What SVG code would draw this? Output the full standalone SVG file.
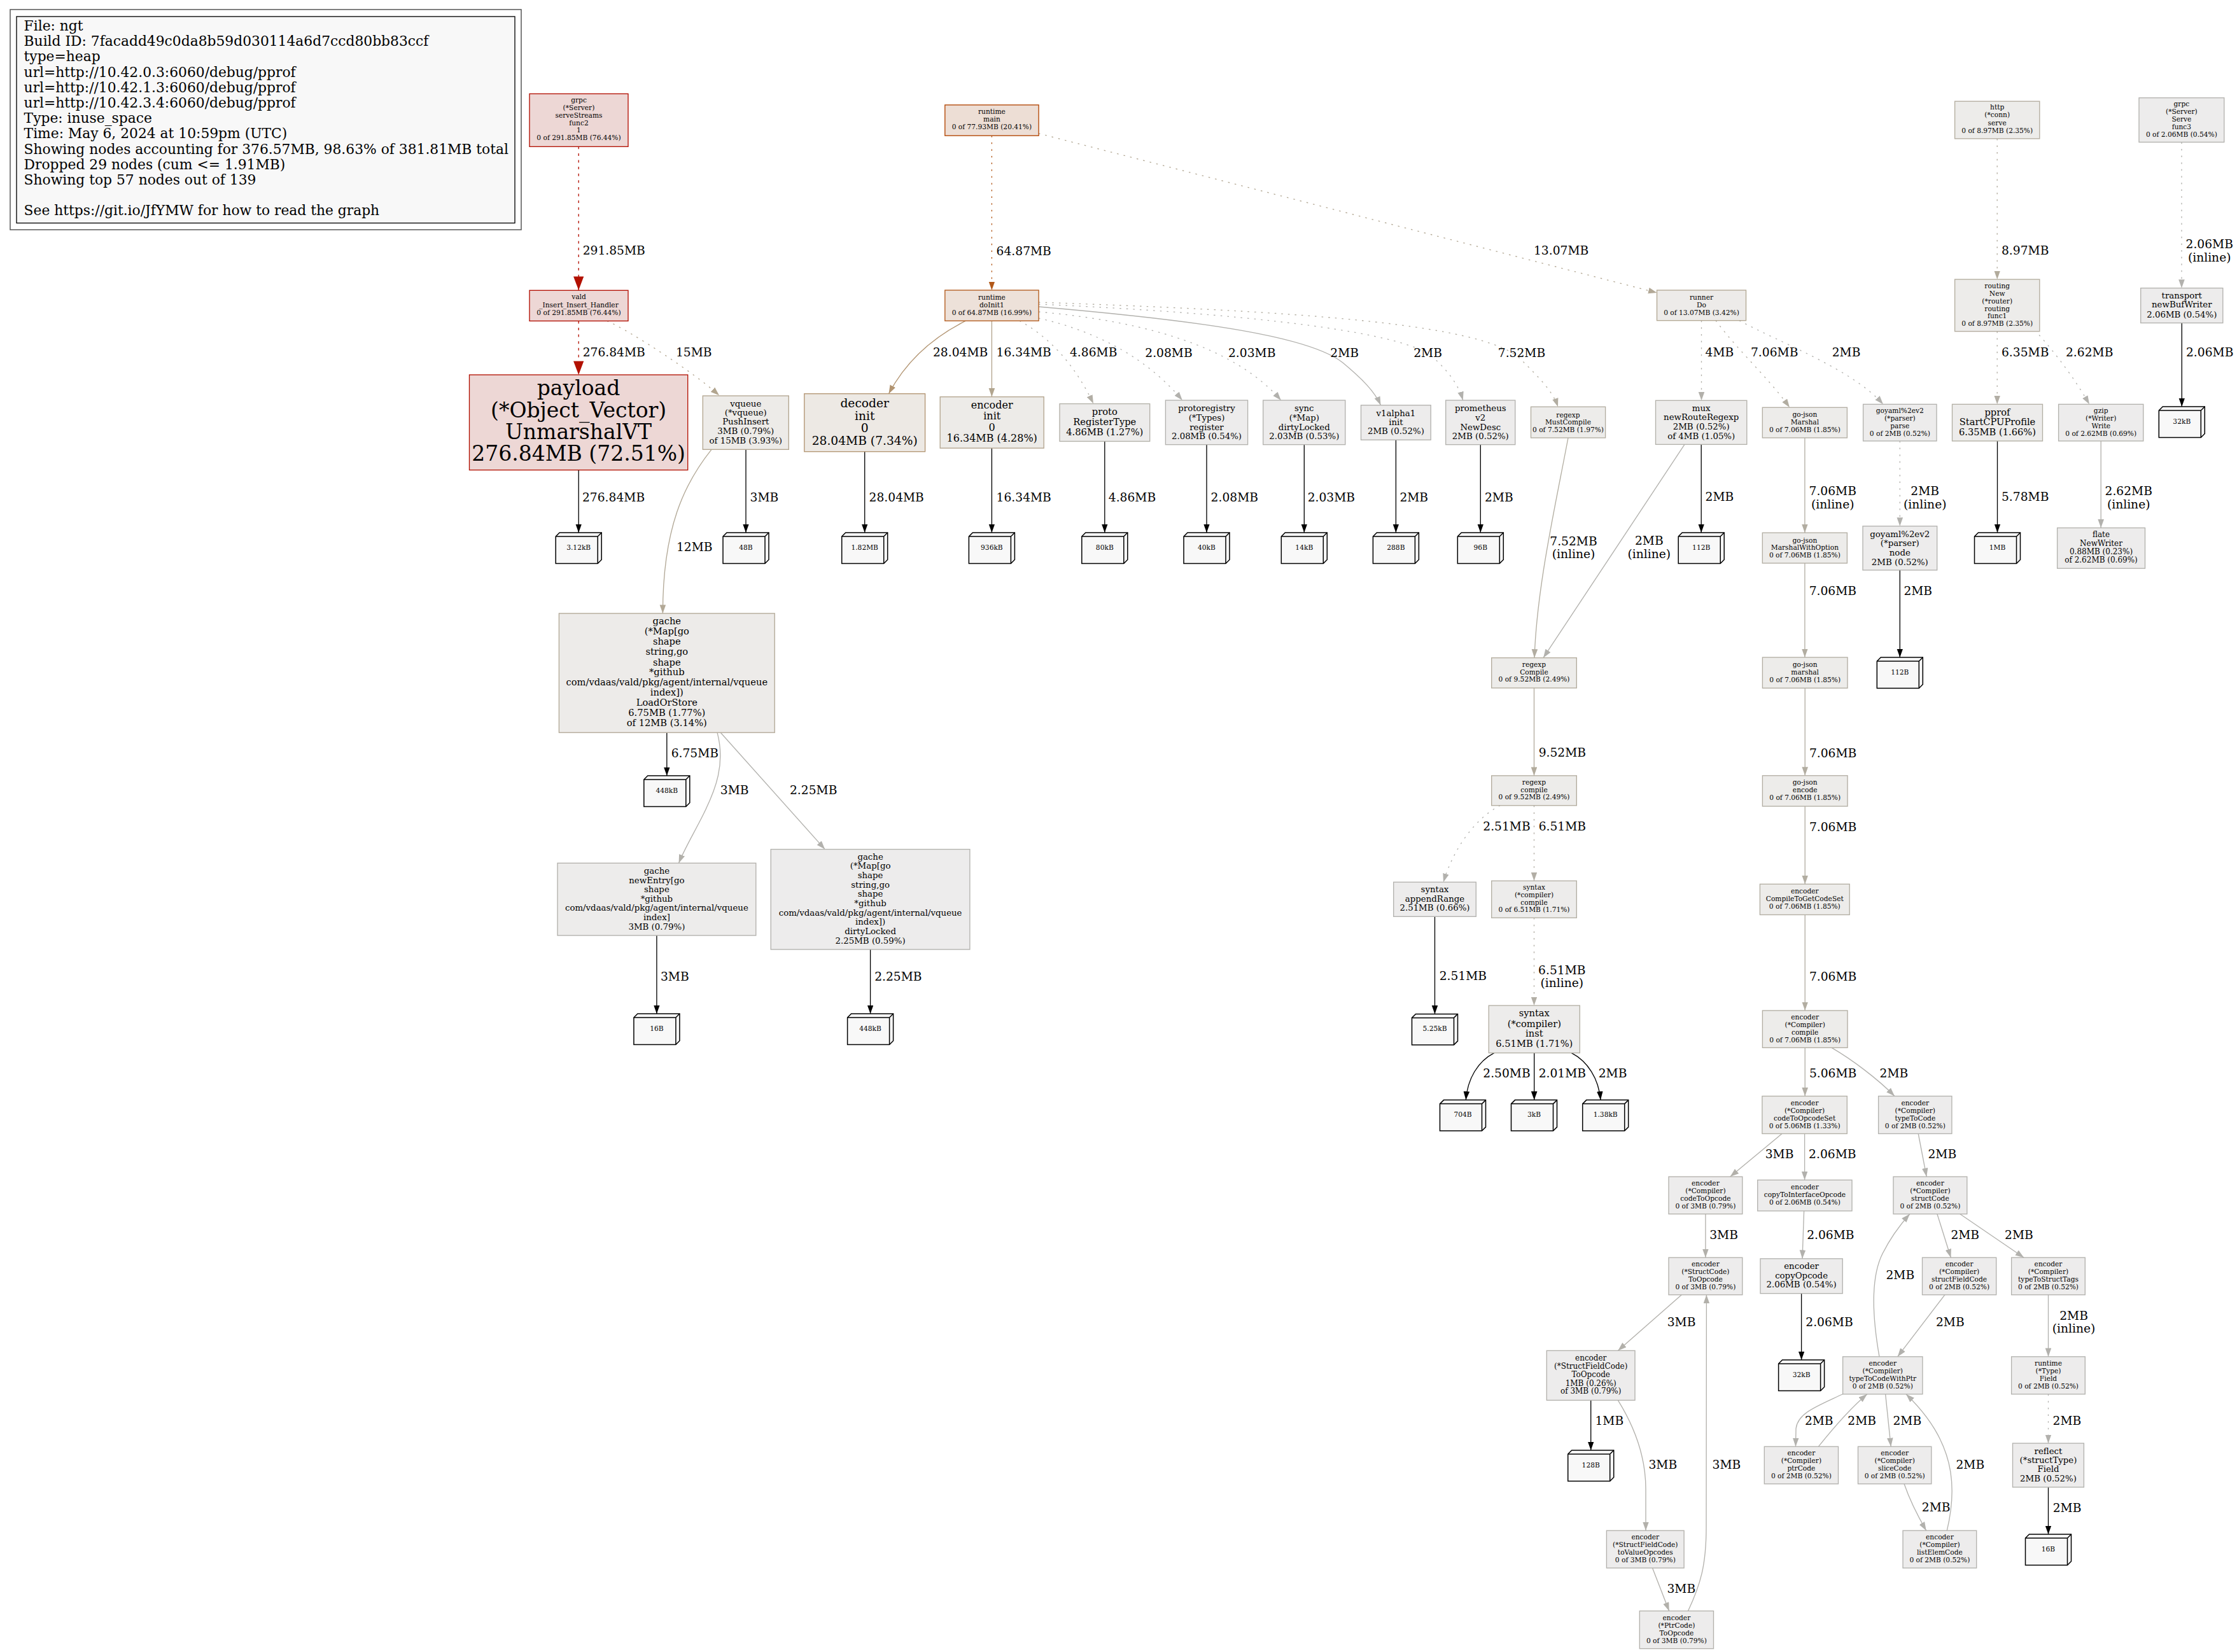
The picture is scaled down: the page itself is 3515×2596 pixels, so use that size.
<svg xmlns="http://www.w3.org/2000/svg" xmlns:xlink="http://www.w3.org/1999/xlink" width="3515" height="2596" viewBox="0 0 3515 2596">
<style>
text{font-family:"DejaVu Serif",serif;fill:#000}
.n text{text-anchor:middle}
.n rect{stroke-width:1.33}
.f8{font-size:10.67px}.f9{font-size:12px}.f10{font-size:13.33px}.f11{font-size:14.67px}.f12{font-size:16px}.f14{font-size:18.67px}.f24{font-size:33px}
.lg{font-size:21.8px}
.el{font-size:18.67px}
.mid{text-anchor:middle}
.e{fill:none;stroke-width:1.33}
.d{stroke-dasharray:2.5 8.1}
.k{stroke:#000}
.g1{stroke:#b2b1ad}
.leaf text{font-size:10.67px;text-anchor:middle}
</style>
<defs>
<marker id="aR" markerUnits="userSpaceOnUse" markerWidth="22" markerHeight="17" refX="21.6" refY="8.15" orient="auto"><path d="M0,0L21.6,8.15L0,16.3Z" fill="#b21000"/></marker>
<marker id="aK" markerUnits="userSpaceOnUse" markerWidth="14" markerHeight="10" refX="13.5" refY="4.8" orient="auto"><path d="M0,0L13.5,4.8L0,9.6Z" fill="#000"/></marker>
<marker id="aO" markerUnits="userSpaceOnUse" markerWidth="14" markerHeight="10" refX="13.5" refY="4.8" orient="auto"><path d="M0,0L13.5,4.8L0,9.6Z" fill="#b2591a"/></marker>
<marker id="a94" markerUnits="userSpaceOnUse" markerWidth="14" markerHeight="10" refX="13.5" refY="4.8" orient="auto"><path d="M0,0L13.5,4.8L0,9.6Z" fill="#b29471"/></marker>
<marker id="aA5" markerUnits="userSpaceOnUse" markerWidth="14" markerHeight="10" refX="13.5" refY="4.8" orient="auto"><path d="M0,0L13.5,4.8L0,9.6Z" fill="#b2a58f"/></marker>
<marker id="aA8" markerUnits="userSpaceOnUse" markerWidth="14" markerHeight="10" refX="13.5" refY="4.8" orient="auto"><path d="M0,0L13.5,4.8L0,9.6Z" fill="#b2a896"/></marker>
<marker id="aAB" markerUnits="userSpaceOnUse" markerWidth="14" markerHeight="10" refX="13.5" refY="4.8" orient="auto"><path d="M0,0L13.5,4.8L0,9.6Z" fill="#b2ab9c"/></marker>
<marker id="aAD" markerUnits="userSpaceOnUse" markerWidth="14" markerHeight="10" refX="13.5" refY="4.8" orient="auto"><path d="M0,0L13.5,4.8L0,9.6Z" fill="#b2ada1"/></marker>
<marker id="aAE" markerUnits="userSpaceOnUse" markerWidth="14" markerHeight="10" refX="13.5" refY="4.8" orient="auto"><path d="M0,0L13.5,4.8L0,9.6Z" fill="#b2aea5"/></marker>
<marker id="aB0" markerUnits="userSpaceOnUse" markerWidth="14" markerHeight="10" refX="13.5" refY="4.8" orient="auto"><path d="M0,0L13.5,4.8L0,9.6Z" fill="#b2b0aa"/></marker>
<marker id="aB1" markerUnits="userSpaceOnUse" markerWidth="14" markerHeight="10" refX="13.5" refY="4.8" orient="auto"><path d="M0,0L13.5,4.8L0,9.6Z" fill="#b2b1ad"/></marker>
<g id="box3d"><path d="M-36,6L-30,0L36,0L36,42.5L30,48.5L-36,48.5Z" fill="#f8f8f8" stroke="#000" stroke-width="1.5"/><path d="M-36,6L30,6L30,48.5M30,6L36,0" fill="none" stroke="#000" stroke-width="1.5"/></g>
</defs>
<rect x="0" y="0" width="3515" height="2596" fill="#fff"/>

<g id="legend">
<rect x="16" y="15" width="803" height="346" fill="none" stroke="#555" stroke-width="1.5"/>
<rect x="26" y="26" width="783" height="324.5" fill="#f8f8f8" stroke="#000" stroke-width="1.33"/>
<text class="lg"><tspan x="37.6" y="48">File: ngt</tspan><tspan x="37.6" y="72.2">Build ID: 7facadd49c0da8b59d030114a6d7ccd80bb83ccf</tspan><tspan x="37.6" y="96.4">type=heap</tspan><tspan x="37.6" y="120.6">url=http://10.42.0.3:6060/debug/pprof</tspan><tspan x="37.6" y="144.8">url=http://10.42.1.3:6060/debug/pprof</tspan><tspan x="37.6" y="169">url=http://10.42.3.4:6060/debug/pprof</tspan><tspan x="37.6" y="193.2">Type: inuse_space</tspan><tspan x="37.6" y="217.4">Time: May 6, 2024 at 10:59pm (UTC)</tspan><tspan x="37.6" y="241.6">Showing nodes accounting for 376.57MB, 98.63% of 381.81MB total</tspan><tspan x="37.6" y="265.8">Dropped 29 nodes (cum &lt;= 1.91MB)</tspan><tspan x="37.6" y="290">Showing top 57 nodes out of 139</tspan><tspan x="37.6" y="338.4">See https://git.io/JfYMW for how to read the graph</tspan></text>
</g>

<g id="edges">
<path class="e" d="M909.2,230.3L909.2,456" stroke="#b20d00" stroke-width="5.3" stroke-dasharray="4 6.6" marker-end="url(#aR)"/>
<text class="el" x="915.7" y="399.7">291.85MB</text>
<path class="e" d="M909.2,504.4L909.2,589" stroke="#b21000" stroke-width="5.3" stroke-dasharray="4 6.6" marker-end="url(#aR)"/>
<text class="el" x="915.7" y="559.6">276.84MB</text>
<path class="e d" d="M954,504.4C990,520 1090,585 1130,621.3" stroke="#b2a58f" marker-end="url(#aA5)"/>
<text class="el" x="1062" y="559.6">15MB</text>
<path class="e k" d="M909.2,738.6L909.2,837" marker-end="url(#aK)"/>
<text class="el" x="915" y="787.5">276.84MB</text>
<path class="e k" d="M1172,706.3L1172,837" marker-end="url(#aK)"/>
<text class="el" x="1178.6" y="787.5">3MB</text>
<path class="e" d="M1118,706.3C1075,760 1041.4,830 1041.4,963.9" stroke="#b2a896" marker-end="url(#aA8)"/>
<text class="el" x="1063" y="865.5">12MB</text>
<path class="e d" d="M1558.4,213.2L1558.4,456" stroke="#b2591a" marker-end="url(#aO)"/>
<text class="el" x="1565.6" y="400.5">64.87MB</text>
<path class="e d" d="M1632,209.7L2603.5,460" stroke="#b2a793" marker-end="url(#aA8)"/>
<text class="el" x="2410" y="400">13.07MB</text>
<path class="e" d="M1517.4,504.2C1470,528 1425,565 1396.5,618.7" stroke="#b29471" marker-end="url(#a94)"/>
<text class="el" x="1466" y="559.6">28.04MB</text>
<path class="e" d="M1558.4,504.2L1558.4,623.6" stroke="#b2a38c" marker-end="url(#aA5)"/>
<text class="el" x="1565.6" y="559.6">16.34MB</text>
<path class="e d" d="M1602,504.2C1650,530 1690,575 1718,634.3" stroke="#b2afa7" marker-end="url(#aAE)"/>
<text class="el" x="1681" y="559.6">4.86MB</text>
<path class="e d g1" d="M1632,500C1720,520 1800,560 1857.8,629" marker-end="url(#aB1)"/>
<text class="el" x="1799.3" y="560.5">2.08MB</text>
<path class="e d g1" d="M1632,490C1800,505 1940,545 2012.8,629" marker-end="url(#aB1)"/>
<text class="el" x="1930" y="560.5">2.03MB</text>
<path class="e g1" d="M1632,482C1900,505 2060,530 2110,570C2140,595 2160,615 2169.5,636.7" marker-end="url(#aB1)"/>
<text class="el" x="2090.3" y="560.5">2MB</text>
<path class="e d g1" d="M1632,478C1950,492 2200,520 2250,560C2275,582 2292,605 2298.7,629" marker-end="url(#aB1)"/>
<text class="el" x="2221.2" y="560.5">2MB</text>
<path class="e d" d="M1632,475C2000,488 2330,505 2390,565C2420,595 2440,615 2448,639.3" stroke="#b2ada0" marker-end="url(#aAD)"/>
<text class="el" x="2353.8" y="560.5">7.52MB</text>
<path class="e k" d="M1358.7,709.7L1358.7,837" marker-end="url(#aK)"/>
<text class="el" x="1365.6" y="787.5">28.04MB</text>
<path class="e k" d="M1558.4,704.2L1558.4,837" marker-end="url(#aK)"/>
<text class="el" x="1565.6" y="787.5">16.34MB</text>
<path class="e k" d="M1735.8,693.5L1735.8,837" marker-end="url(#aK)"/>
<text class="el" x="1741.8" y="788.4">4.86MB</text>
<path class="e k" d="M1896,698.7L1896,837" marker-end="url(#aK)"/>
<text class="el" x="1902.6" y="788.4">2.08MB</text>
<path class="e k" d="M2049.3,698.7L2049.3,837" marker-end="url(#aK)"/>
<text class="el" x="2054.7" y="788.4">2.03MB</text>
<path class="e k" d="M2193.4,691.3L2193.4,837" marker-end="url(#aK)"/>
<text class="el" x="2199.4" y="788.4">2MB</text>
<path class="e k" d="M2326.3,698.7L2326.3,837" marker-end="url(#aK)"/>
<text class="el" x="2333" y="788.4">2MB</text>
<path class="e d" d="M2673.5,503.7L2673.5,629.3" stroke="#b2b0a9" marker-end="url(#aB0)"/>
<text class="el" x="2679.6" y="560">4MB</text>
<path class="e d" d="M2696,503.7C2730,550 2780,595 2812,640.3" stroke="#b2ada2" marker-end="url(#aAD)"/>
<text class="el" x="2751" y="560">7.06MB</text>
<path class="e d g1" d="M2733,503.7C2800,540 2910,580 2959,635.3" marker-end="url(#aB1)"/>
<text class="el" x="2878.7" y="560">2MB</text>
<path class="e k" d="M2673.2,698.4L2673.2,837" marker-end="url(#aK)"/>
<text class="el" x="2679.6" y="787.4">2MB</text>
<path class="e g1" d="M2647,698.4L2425,1033.7" marker-end="url(#aB1)"/>
<text class="el mid" x="2591.3" y="856">2MB</text><text class="el mid" x="2591.3" y="876.8">(inline)</text>
<path class="e" d="M2464,688C2445,790 2415,920 2411,1033.7" stroke="#b2ada0" marker-end="url(#aAD)"/>
<text class="el mid" x="2472.5" y="856.7">7.52MB</text><text class="el mid" x="2472.5" y="876.7">(inline)</text>
<path class="e" d="M2835.9,688L2835.9,837.2" stroke="#b2ada2" marker-end="url(#aAD)"/>
<text class="el mid" x="2879.7" y="778.1">7.06MB</text><text class="el mid" x="2879.7" y="798.9">(inline)</text>
<path class="e d g1" d="M2985.3,693L2985.3,826.8" marker-end="url(#aB1)"/>
<text class="el mid" x="3024.7" y="778.1">2MB</text><text class="el mid" x="3024.7" y="798.9">(inline)</text>
<path class="e d" d="M3138.2,217.9L3138.2,439" stroke="#b2ab9d" marker-end="url(#aAB)"/>
<text class="el" x="3145" y="400">8.97MB</text>
<path class="e d" d="M3138.2,520.7L3138.2,635.3" stroke="#b2aea3" marker-end="url(#aAE)"/>
<text class="el" x="3145" y="560">6.35MB</text>
<path class="e d" d="M3197,518.5C3230,555 3260,595 3283,635.3" stroke="#b2b1ac" marker-end="url(#aB1)"/>
<text class="el" x="3246" y="560">2.62MB</text>
<path class="e d g1" d="M3428,223.4L3428,452.7" marker-end="url(#aB1)"/>
<text class="el mid" x="3471.7" y="389.7">2.06MB</text><text class="el mid" x="3471.7" y="410.6">(inline)</text>
<path class="e k" d="M3428.3,507.5L3428.3,639" marker-end="url(#aK)"/>
<text class="el" x="3435" y="560">2.06MB</text>
<path class="e k" d="M3138.5,693L3138.5,837" marker-end="url(#aK)"/>
<text class="el" x="3145" y="787.4">5.78MB</text>
<path class="e" d="M3301.2,693L3301.2,829.5" stroke="#b2b1ac" marker-end="url(#aB1)"/>
<text class="el mid" x="3344.7" y="778.1">2.62MB</text><text class="el mid" x="3344.7" y="798.9">(inline)</text>
<path class="e" d="M2835.9,885L2835.9,1033" stroke="#b2ada2" marker-end="url(#aAD)"/>
<text class="el" x="2842.7" y="935">7.06MB</text>
<path class="e k" d="M2985.3,895.9L2985.3,1033" marker-end="url(#aK)"/>
<text class="el" x="2991.4" y="935">2MB</text>
<path class="e k" d="M1047.8,1151.2L1047.8,1219" marker-end="url(#aK)"/>
<text class="el" x="1054.7" y="1190.4">6.75MB</text>
<path class="e" d="M1127,1151.2C1140,1200 1125,1240 1105,1280C1090,1310 1075,1335 1066.6,1356.3" stroke="#b2b0ab" marker-end="url(#aB0)"/>
<text class="el" x="1131.8" y="1248.1">3MB</text>
<path class="e g1" d="M1132.3,1151.2L1296.2,1334.6" marker-end="url(#aB1)"/>
<text class="el" x="1241" y="1248.1">2.25MB</text>
<path class="e k" d="M1031.9,1470L1031.9,1593" marker-end="url(#aK)"/>
<text class="el" x="1038" y="1540.8">3MB</text>
<path class="e k" d="M1367.6,1492L1367.6,1593" marker-end="url(#aK)"/>
<text class="el" x="1374.2" y="1540.8">2.25MB</text>
<path class="e" d="M2410.5,1081.1L2410.5,1218.9" stroke="#b2ab9c" marker-end="url(#aAB)"/>
<text class="el" x="2417.7" y="1189.4">9.52MB</text>
<path class="e d g1" d="M2357,1265.8C2320,1285 2285,1330 2268,1386.2" marker-end="url(#aB1)"/>
<text class="el" x="2330.3" y="1305.2">2.51MB</text>
<path class="e d" d="M2410.5,1265.8L2410.5,1384.2" stroke="#b2aea3" marker-end="url(#aAE)"/>
<text class="el" x="2417.7" y="1305.2">6.51MB</text>
<path class="e k" d="M2254.5,1440.3L2254.5,1593.4" marker-end="url(#aK)"/>
<text class="el" x="2261.7" y="1540.4">2.51MB</text>
<path class="e d" d="M2410.5,1442.3L2410.5,1580.1" stroke="#b2aea3" marker-end="url(#aAE)"/>
<text class="el mid" x="2454.3" y="1530.7">6.51MB</text><text class="el mid" x="2454.3" y="1551.1">(inline)</text>
<path class="e k" d="M2347.7,1654.6C2322,1668 2306,1695 2303.3,1728.6" marker-end="url(#aK)"/>
<text class="el" x="2330.3" y="1693.4">2.50MB</text>
<path class="e k" d="M2410.7,1654.6L2410.7,1728.6" marker-end="url(#aK)"/>
<text class="el" x="2417.7" y="1693.4">2.01MB</text>
<path class="e k" d="M2469.3,1654.6C2495,1668 2512,1695 2515,1728.6" marker-end="url(#aK)"/>
<text class="el" x="2511.7" y="1693.4">2MB</text>
<path class="e" d="M2836.2,1081.3L2836.2,1218.8" stroke="#b2ada2" marker-end="url(#aAD)"/>
<text class="el" x="2842.9" y="1189.7">7.06MB</text>
<path class="e" d="M2836.2,1267L2836.2,1389.3" stroke="#b2ada2" marker-end="url(#aAD)"/>
<text class="el" x="2842.9" y="1305.8">7.06MB</text>
<path class="e" d="M2836.2,1437.5L2836.2,1588" stroke="#b2ada2" marker-end="url(#aAD)"/>
<text class="el" x="2842.9" y="1540.6">7.06MB</text>
<path class="e" d="M2836.2,1646.4L2836.2,1722.5" stroke="#b2afa6" marker-end="url(#aAE)"/>
<text class="el" x="2842.9" y="1693.3">5.06MB</text>
<path class="e g1" d="M2878,1646.4C2910,1665 2950,1695 2977,1722.5" marker-end="url(#aB1)"/>
<text class="el" x="2953.6" y="1693.3">2MB</text>
<path class="e" d="M2800,1781.5L2718.7,1849.1" stroke="#b2b0ab" marker-end="url(#aB0)"/>
<text class="el" x="2773.7" y="1820.3">3MB</text>
<path class="e g1" d="M2835.6,1781.5L2835.6,1854.3" marker-end="url(#aB1)"/>
<text class="el" x="2842.1" y="1820.3">2.06MB</text>
<path class="e g1" d="M3014.2,1781.5L3027.2,1849.1" marker-end="url(#aB1)"/>
<text class="el" x="3029.5" y="1820.3">2MB</text>
<path class="e" d="M2679.9,1907.7L2679.9,1976.2" stroke="#b2b0ab" marker-end="url(#aB0)"/>
<text class="el" x="2686.2" y="1946.9">3MB</text>
<path class="e g1" d="M2834.6,1902.9L2832,1977.9" marker-end="url(#aB1)"/>
<text class="el" x="2839.2" y="1946.9">2.06MB</text>
<path class="e g1" d="M3043.9,1907.7L3065.4,1976.2" marker-end="url(#aB1)"/>
<text class="el" x="3065.4" y="1946.9">2MB</text>
<path class="e g1" d="M3079.8,1907.7L3180.2,1976.2" marker-end="url(#aB1)"/>
<text class="el" x="3150.1" y="1946.9">2MB</text>
<path class="e k" d="M2830.6,2032.6L2830.6,2137" marker-end="url(#aK)"/>
<text class="el" x="2837.3" y="2083.9">2.06MB</text>
<path class="e g1" d="M3055.9,2034.7L2981.7,2131.9" marker-end="url(#aB1)"/>
<text class="el" x="3042" y="2083.9">2MB</text>
<path class="e g1" d="M3218.5,2034.7L3218.5,2131.9" marker-end="url(#aB1)"/>
<text class="el mid" x="3258.6" y="2073.9">2MB</text><text class="el mid" x="3258.6" y="2094.3">(inline)</text>
<path class="e g1" d="M2953,2131.9C2943,2075 2938,2010 2958,1970C2972,1942 2988,1922 3000.8,1907.7" marker-end="url(#aB1)"/>
<text class="el" x="2963.5" y="2009.7">2MB</text>
<path class="e" d="M2642.2,2034.7L2542.3,2122.4" stroke="#b2b0ab" marker-end="url(#aB0)"/>
<text class="el" x="2619.7" y="2083.9">3MB</text>
<path class="e" d="M2652.5,2531.5C2672,2490 2681,2460 2681,2400L2681.4,2034.7" stroke="#b2b0ab" marker-end="url(#aB0)"/>
<text class="el" x="2690.6" y="2307.8">3MB</text>
<path class="e k" d="M2499.7,2200.4L2499.7,2279" marker-end="url(#aK)"/>
<text class="el" x="2506.5" y="2238.8">1MB</text>
<path class="e" d="M2542.3,2200.4C2570,2245 2586,2290 2586,2340L2586,2405.2" stroke="#b2b0ab" marker-end="url(#aB0)"/>
<text class="el" x="2590.5" y="2307.8">3MB</text>
<path class="e" d="M2596.5,2464L2622.7,2531.5" stroke="#b2b0ab" marker-end="url(#aB0)"/>
<text class="el" x="2619.5" y="2502.7">3MB</text>
<path class="e g1" d="M2897,2190C2855,2210 2825,2220 2822,2245L2821.5,2273.2" marker-end="url(#aB1)"/>
<text class="el" x="2835.9" y="2238.7">2MB</text>
<path class="e g1" d="M2857.4,2273.2C2880,2245 2905,2215 2933.9,2190.8" marker-end="url(#aB1)"/>
<text class="el" x="2903.3" y="2238.7">2MB</text>
<path class="e g1" d="M2962.6,2190.8L2971.2,2273.2" marker-end="url(#aB1)"/>
<text class="el" x="2974.5" y="2238.7">2MB</text>
<path class="e g1" d="M2992,2331.8C3000,2355 3012,2380 3026.7,2405.2" marker-end="url(#aB1)"/>
<text class="el" x="3019.8" y="2375.3">2MB</text>
<path class="e g1" d="M3059.3,2405.2C3070,2360 3070,2320 3058,2285C3045,2245 3020,2215 2995,2190.8" marker-end="url(#aB1)"/>
<text class="el" x="3073.5" y="2307.5">2MB</text>
<path class="e d g1" d="M3218.5,2190.8L3218.5,2268" marker-end="url(#aB1)"/>
<text class="el" x="3225.6" y="2238.7">2MB</text>
<path class="e k" d="M3218.5,2337L3218.5,2411" marker-end="url(#aK)"/>
<text class="el" x="3225.7" y="2375.7">2MB</text>
</g>

<g id="N_grpc_serveStreams" class="n"><rect x="832" y="147.4" width="155" height="83" fill="#edd7d5" stroke="#b20d00"/><text class="f8"><tspan x="909.5" y="161.2">grpc</tspan><tspan x="909.5" y="172.8">(*Server)</tspan><tspan x="909.5" y="184.8">serveStreams</tspan><tspan x="909.5" y="196.8">func2</tspan><tspan x="909.5" y="208.4">1</tspan><tspan x="909.5" y="220.4">0 of 291.85MB (76.44%)</tspan></text></g>
<g id="N_vald" class="n"><rect x="832" y="456.3" width="155" height="48.1" fill="#edd7d5" stroke="#b20d00"/><text class="f8"><tspan x="909.5" y="470.4">vald</tspan><tspan x="909.5" y="482.5">_Insert_Insert_Handler</tspan><tspan x="909.5" y="494.5">0 of 291.85MB (76.44%)</tspan></text></g>
<g id="N_payload" class="n"><rect x="737.5" y="589" width="343.2" height="149.6" fill="#edd7d5" stroke="#b21000"/><text class="f24"><tspan x="909.1" y="620.8">payload</tspan><tspan x="909.1" y="655.9">(*Object_Vector)</tspan><tspan x="909.1" y="689.9">UnmarshalVT</tspan><tspan x="909.1" y="724.4">276.84MB (72.51%)</tspan></text></g>
<g id="N_vqueue" class="n"><rect x="1104.3" y="622" width="135" height="84.3" fill="#edebe8" stroke="#b2a58f"/><text class="f10"><tspan x="1171.8" y="638.5">vqueue</tspan><tspan x="1171.8" y="653">(*vqueue)</tspan><tspan x="1171.8" y="667.1">PushInsert</tspan><tspan x="1171.8" y="682.1">3MB (0.79%)</tspan><tspan x="1171.8" y="697">of 15MB (3.93%)</tspan></text></g>
<g id="N_runtime_main" class="n"><rect x="1484.8" y="164.9" width="147.3" height="48.3" fill="#edded5" stroke="#b24300"/><text class="f8"><tspan x="1558.4" y="178.7">runtime</tspan><tspan x="1558.4" y="190.6">main</tspan><tspan x="1558.4" y="202.6">0 of 77.93MB (20.41%)</tspan></text></g>
<g id="N_runtime_doInit1" class="n"><rect x="1484.8" y="456" width="147.3" height="48.2" fill="#ede1d9" stroke="#b2591a"/><text class="f8"><tspan x="1558.4" y="470.7">runtime</tspan><tspan x="1558.4" y="482.7">doInit1</tspan><tspan x="1558.4" y="494.6">0 of 64.87MB (16.99%)</tspan></text></g>
<g id="N_decoder_init" class="n"><rect x="1263.8" y="618.7" width="189.8" height="91" fill="#ede9e4" stroke="#b29471"/><text class="f14"><tspan x="1358.7" y="639.7">decoder</tspan><tspan x="1358.7" y="659.7">init</tspan><tspan x="1358.7" y="678.6">0</tspan><tspan x="1358.7" y="699">28.04MB (7.34%)</tspan></text></g>
<g id="N_encoder_init" class="n"><rect x="1477.2" y="623.6" width="163" height="80.6" fill="#edebe8" stroke="#b2a38c"/><text class="f12"><tspan x="1558.7" y="642.4">encoder</tspan><tspan x="1558.7" y="658.8">init</tspan><tspan x="1558.7" y="676.7">0</tspan><tspan x="1558.7" y="694.1">16.34MB (4.28%)</tspan></text></g>
<g id="N_proto_RegisterType" class="n"><rect x="1665" y="634.5" width="141.7" height="59" fill="#edeceb" stroke="#b2afa7"/><text class="f11"><tspan x="1735.8" y="652.3">proto</tspan><tspan x="1735.8" y="667.7">RegisterType</tspan><tspan x="1735.8" y="683.6">4.86MB (1.27%)</tspan></text></g>
<g id="N_protoregistry" class="n"><rect x="1831.4" y="629" width="129.2" height="69.7" fill="#edecec" stroke="#b2b1ad"/><text class="f10"><tspan x="1896" y="645.5">protoregistry</tspan><tspan x="1896" y="660.5">(*Types)</tspan><tspan x="1896" y="675.5">register</tspan><tspan x="1896" y="689.8">2.08MB (0.54%)</tspan></text></g>
<g id="N_sync" class="n"><rect x="1984.7" y="629" width="129.1" height="69.7" fill="#edecec" stroke="#b2b1ad"/><text class="f10"><tspan x="2049.3" y="645.5">sync</tspan><tspan x="2049.3" y="660.5">(*Map)</tspan><tspan x="2049.3" y="675.5">dirtyLocked</tspan><tspan x="2049.3" y="689.8">2.03MB (0.53%)</tspan></text></g>
<g id="N_v1alpha1" class="n"><rect x="2138.5" y="636.7" width="109.7" height="54.6" fill="#edecec" stroke="#b2b1ad"/><text class="f10"><tspan x="2193.4" y="653.8">v1alpha1</tspan><tspan x="2193.4" y="667.8">init</tspan><tspan x="2193.4" y="682.1">2MB (0.52%)</tspan></text></g>
<g id="N_prometheus" class="n"><rect x="2271.7" y="629" width="109.1" height="69.7" fill="#edecec" stroke="#b2b1ad"/><text class="f10"><tspan x="2326.3" y="645.5">prometheus</tspan><tspan x="2326.3" y="660.5">v2</tspan><tspan x="2326.3" y="675.5">NewDesc</tspan><tspan x="2326.3" y="689.8">2MB (0.52%)</tspan></text></g>
<g id="N_regexp_MustCompile" class="n"><rect x="2405.5" y="639.3" width="117.1" height="48.7" fill="#edecea" stroke="#b2ada0"/><text class="f8"><tspan x="2464" y="655.5">regexp</tspan><tspan x="2464" y="667.1">MustCompile</tspan><tspan x="2464" y="678.8">0 of 7.52MB (1.97%)</tspan></text></g>
<g id="N_runner_Do" class="n"><rect x="2603.5" y="456" width="140" height="47.7" fill="#edebe9" stroke="#b2a793"/><text class="f8"><tspan x="2673.5" y="471.3">runner</tspan><tspan x="2673.5" y="483.3">Do</tspan><tspan x="2673.5" y="494.8">0 of 13.07MB (3.42%)</tspan></text></g>
<g id="N_mux" class="n"><rect x="2601.5" y="629.3" width="143.3" height="69.1" fill="#edeceb" stroke="#b2b0a9"/><text class="f10"><tspan x="2673.2" y="645.6">mux</tspan><tspan x="2673.2" y="660.4">newRouteRegexp</tspan><tspan x="2673.2" y="675.2">2MB (0.52%)</tspan><tspan x="2673.2" y="689.5">of 4MB (1.05%)</tspan></text></g>
<g id="N_gojson_Marshal" class="n"><rect x="2769.3" y="640.3" width="133.1" height="47.7" fill="#edecea" stroke="#b2ada2"/><text class="f8"><tspan x="2835.9" y="655">go-json</tspan><tspan x="2835.9" y="666.6">Marshal</tspan><tspan x="2835.9" y="678.6">0 of 7.06MB (1.85%)</tspan></text></g>
<g id="N_goyaml_parse" class="n"><rect x="2927.6" y="635.3" width="115.4" height="57.7" fill="#edecec" stroke="#b2b1ad"/><text class="f8"><tspan x="2985.3" y="648.5">goyaml%2ev2</tspan><tspan x="2985.3" y="660.5">(*parser)</tspan><tspan x="2985.3" y="672.6">parse</tspan><tspan x="2985.3" y="684.7">0 of 2MB (0.52%)</tspan></text></g>
<g id="N_pprof" class="n"><rect x="3067.5" y="635.3" width="142" height="57.7" fill="#edeceb" stroke="#b2aea3"/><text class="f11"><tspan x="3138.5" y="652.7">pprof</tspan><tspan x="3138.5" y="668.1">StartCPUProfile</tspan><tspan x="3138.5" y="684">6.35MB (1.66%)</tspan></text></g>
<g id="N_gzip" class="n"><rect x="3234.6" y="635.3" width="133.2" height="57.7" fill="#edecec" stroke="#b2b1ac"/><text class="f8"><tspan x="3301.2" y="648.5">gzip</tspan><tspan x="3301.2" y="660.5">(*Writer)</tspan><tspan x="3301.2" y="672.6">Write</tspan><tspan x="3301.2" y="684.7">0 of 2.62MB (0.69%)</tspan></text></g>
<g id="N_http" class="n"><rect x="3071.6" y="159.2" width="133.2" height="58.7" fill="#edecea" stroke="#b2ab9d"/><text class="f8"><tspan x="3138.2" y="172.3">http</tspan><tspan x="3138.2" y="184.4">(*conn)</tspan><tspan x="3138.2" y="196.5">serve</tspan><tspan x="3138.2" y="208.5">0 of 8.97MB (2.35%)</tspan></text></g>
<g id="N_grpc_Serve" class="n"><rect x="3361" y="153.7" width="133.8" height="69.7" fill="#edecec" stroke="#b2b1ad"/><text class="f8"><tspan x="3427.9" y="166.8">grpc</tspan><tspan x="3427.9" y="178.9">(*Server)</tspan><tspan x="3427.9" y="191">Serve</tspan><tspan x="3427.9" y="202.5">func3</tspan><tspan x="3427.9" y="214.6">0 of 2.06MB (0.54%)</tspan></text></g>
<g id="N_routing" class="n"><rect x="3071.6" y="439" width="133.2" height="81.7" fill="#edecea" stroke="#b2ab9d"/><text class="f8"><tspan x="3138.2" y="453.2">routing</tspan><tspan x="3138.2" y="465.3">New</tspan><tspan x="3138.2" y="476.8">(*router)</tspan><tspan x="3138.2" y="488.8">routing</tspan><tspan x="3138.2" y="500.4">func1</tspan><tspan x="3138.2" y="512.4">0 of 8.97MB (2.35%)</tspan></text></g>
<g id="N_transport" class="n"><rect x="3363.7" y="452.7" width="129.1" height="54.8" fill="#edecec" stroke="#b2b1ad"/><text class="f10"><tspan x="3428.3" y="469">transport</tspan><tspan x="3428.3" y="483.3">newBufWriter</tspan><tspan x="3428.3" y="498.6">2.06MB (0.54%)</tspan></text></g>
<g id="N_gojson_MarshalWithOption" class="n"><rect x="2769.3" y="837.2" width="133.1" height="47.8" fill="#edecea" stroke="#b2ada2"/><text class="f8"><tspan x="2835.9" y="852.5">go-json</tspan><tspan x="2835.9" y="864">MarshalWithOption</tspan><tspan x="2835.9" y="876.1">0 of 7.06MB (1.85%)</tspan></text></g>
<g id="N_goyaml_node" class="n"><rect x="2927" y="826.8" width="116.7" height="69.1" fill="#edecec" stroke="#b2b1ad"/><text class="f10"><tspan x="2985.3" y="843.7">goyaml%2ev2</tspan><tspan x="2985.3" y="857.8">(*parser)</tspan><tspan x="2985.3" y="872.8">node</tspan><tspan x="2985.3" y="887.5">2MB (0.52%)</tspan></text></g>
<g id="N_flate" class="n"><rect x="3232.6" y="829.5" width="137.9" height="63.7" fill="#edecec" stroke="#b2b1ac"/><text class="f9"><tspan x="3301.5" y="844.3">flate</tspan><tspan x="3301.5" y="858">NewWriter</tspan><tspan x="3301.5" y="871.1">0.88MB (0.23%)</tspan><tspan x="3301.5" y="884.3">of 2.62MB (0.69%)</tspan></text></g>
<g id="N_gache_LoadOrStore" class="n"><rect x="878.4" y="963.9" width="338.8" height="187.3" fill="#edebe9" stroke="#b2a896"/><text class="f11"><tspan x="1047.8" y="980.9">gache</tspan><tspan x="1047.8" y="997.3">(*Map[go</tspan><tspan x="1047.8" y="1013.3">shape</tspan><tspan x="1047.8" y="1029.4">string,go</tspan><tspan x="1047.8" y="1045.5">shape</tspan><tspan x="1047.8" y="1061.1">*github</tspan><tspan x="1047.8" y="1077.1">com/vdaas/vald/pkg/agent/internal/vqueue</tspan><tspan x="1047.8" y="1093.2">index])</tspan><tspan x="1047.8" y="1109.2">LoadOrStore</tspan><tspan x="1047.8" y="1125.3">6.75MB (1.77%)</tspan><tspan x="1047.8" y="1141.3">of 12MB (3.14%)</tspan></text></g>
<g id="N_gache_newEntry" class="n"><rect x="876" y="1356.3" width="311.8" height="113.7" fill="#edeceb" stroke="#b2b0ab"/><text class="f10"><tspan x="1031.9" y="1373.2">gache</tspan><tspan x="1031.9" y="1387.6">newEntry[go</tspan><tspan x="1031.9" y="1402.3">shape</tspan><tspan x="1031.9" y="1417.1">*github</tspan><tspan x="1031.9" y="1431.4">com/vdaas/vald/pkg/agent/internal/vqueue</tspan><tspan x="1031.9" y="1446.1">index]</tspan><tspan x="1031.9" y="1460.8">3MB (0.79%)</tspan></text></g>
<g id="N_gache_dirtyLocked" class="n"><rect x="1211.2" y="1334.6" width="312.7" height="157.4" fill="#edecec" stroke="#b2b1ad"/><text class="f10"><tspan x="1367.6" y="1351.1">gache</tspan><tspan x="1367.6" y="1365.4">(*Map[go</tspan><tspan x="1367.6" y="1380.2">shape</tspan><tspan x="1367.6" y="1395.4">string,go</tspan><tspan x="1367.6" y="1409.2">shape</tspan><tspan x="1367.6" y="1424">*github</tspan><tspan x="1367.6" y="1439.2">com/vdaas/vald/pkg/agent/internal/vqueue</tspan><tspan x="1367.6" y="1453">index])</tspan><tspan x="1367.6" y="1468.2">dirtyLocked</tspan><tspan x="1367.6" y="1483">2.25MB (0.59%)</tspan></text></g>
<g id="N_regexp_Compile" class="n"><rect x="2343.7" y="1033.7" width="133.6" height="47.4" fill="#edecea" stroke="#b2ab9c"/><text class="f8"><tspan x="2410.5" y="1048.2">regexp</tspan><tspan x="2410.5" y="1059.9">Compile</tspan><tspan x="2410.5" y="1071.1">0 of 9.52MB (2.49%)</tspan></text></g>
<g id="N_regexp_compile" class="n"><rect x="2343.7" y="1218.9" width="133.6" height="46.9" fill="#edecea" stroke="#b2ab9c"/><text class="f8"><tspan x="2410.5" y="1233.4">regexp</tspan><tspan x="2410.5" y="1244.6">compile</tspan><tspan x="2410.5" y="1256.4">0 of 9.52MB (2.49%)</tspan></text></g>
<g id="N_syntax_appendRange" class="n"><rect x="2189.7" y="1386.2" width="129.6" height="54.1" fill="#edecec" stroke="#b2b1ad"/><text class="f10"><tspan x="2254.5" y="1402.2">syntax</tspan><tspan x="2254.5" y="1417">appendRange</tspan><tspan x="2254.5" y="1431.3">2.51MB (0.66%)</tspan></text></g>
<g id="N_syntax_compile" class="n"><rect x="2343.7" y="1384.2" width="133.6" height="58.1" fill="#edeceb" stroke="#b2aea3"/><text class="f8"><tspan x="2410.5" y="1397.7">syntax</tspan><tspan x="2410.5" y="1409.9">(*compiler)</tspan><tspan x="2410.5" y="1421.7">compile</tspan><tspan x="2410.5" y="1433.4">0 of 6.51MB (1.71%)</tspan></text></g>
<g id="N_syntax_inst" class="n"><rect x="2339.3" y="1580.1" width="143" height="74.5" fill="#edeceb" stroke="#b2aea3"/><text class="f11"><tspan x="2410.8" y="1597.1">syntax</tspan><tspan x="2410.8" y="1613.5">(*compiler)</tspan><tspan x="2410.8" y="1628.8">inst</tspan><tspan x="2410.8" y="1644.6">6.51MB (1.71%)</tspan></text></g>
<g id="N_gojson_marshal" class="n"><rect x="2769.4" y="1033" width="133.6" height="48.3" fill="#edecea" stroke="#b2ada2"/><text class="f8"><tspan x="2836.2" y="1048">go-json</tspan><tspan x="2836.2" y="1059.6">marshal</tspan><tspan x="2836.2" y="1071.7">0 of 7.06MB (1.85%)</tspan></text></g>
<g id="N_gojson_encode" class="n"><rect x="2769.4" y="1218.8" width="133.6" height="48.2" fill="#edecea" stroke="#b2ada2"/><text class="f8"><tspan x="2836.2" y="1232.8">go-json</tspan><tspan x="2836.2" y="1244.8">encode</tspan><tspan x="2836.2" y="1256.8">0 of 7.06MB (1.85%)</tspan></text></g>
<g id="N_CompileToGetCodeSet" class="n"><rect x="2765.4" y="1389.3" width="140.8" height="48.2" fill="#edecea" stroke="#b2ada2"/><text class="f8"><tspan x="2835.8" y="1403.8">encoder</tspan><tspan x="2835.8" y="1415.8">CompileToGetCodeSet</tspan><tspan x="2835.8" y="1427.9">0 of 7.06MB (1.85%)</tspan></text></g>
<g id="N_Compiler_compile" class="n"><rect x="2769.4" y="1588" width="133.6" height="58.4" fill="#edecea" stroke="#b2ada2"/><text class="f8"><tspan x="2836.2" y="1601.6">encoder</tspan><tspan x="2836.2" y="1613.6">(*Compiler)</tspan><tspan x="2836.2" y="1625.7">compile</tspan><tspan x="2836.2" y="1637.7">0 of 7.06MB (1.85%)</tspan></text></g>
<g id="N_codeToOpcodeSet" class="n"><rect x="2768.9" y="1722.5" width="133.4" height="59" fill="#edeceb" stroke="#b2afa6"/><text class="f8"><tspan x="2835.6" y="1736.7">encoder</tspan><tspan x="2835.6" y="1748.8">(*Compiler)</tspan><tspan x="2835.6" y="1761">codeToOpcodeSet</tspan><tspan x="2835.6" y="1772.7">0 of 5.06MB (1.33%)</tspan></text></g>
<g id="N_typeToCode" class="n"><rect x="2951.6" y="1722.5" width="115.3" height="59" fill="#edecec" stroke="#b2b1ad"/><text class="f8"><tspan x="3009.3" y="1736.7">encoder</tspan><tspan x="3009.3" y="1748.8">(*Compiler)</tspan><tspan x="3009.3" y="1761">typeToCode</tspan><tspan x="3009.3" y="1772.7">0 of 2MB (0.52%)</tspan></text></g>
<g id="N_codeToOpcode" class="n"><rect x="2622" y="1849.1" width="115.8" height="58.6" fill="#edecec" stroke="#b2b0ab"/><text class="f8"><tspan x="2679.9" y="1862.9">encoder</tspan><tspan x="2679.9" y="1874.6">(*Compiler)</tspan><tspan x="2679.9" y="1886.8">codeToOpcode</tspan><tspan x="2679.9" y="1898.5">0 of 3MB (0.79%)</tspan></text></g>
<g id="N_copyToInterfaceOpcode" class="n"><rect x="2761.7" y="1854.3" width="148.3" height="48.6" fill="#edecec" stroke="#b2b1ad"/><text class="f8"><tspan x="2835.9" y="1869">encoder</tspan><tspan x="2835.9" y="1881.1">copyToInterfaceOpcode</tspan><tspan x="2835.9" y="1892.8">0 of 2.06MB (0.54%)</tspan></text></g>
<g id="N_structCode" class="n"><rect x="2975" y="1849.1" width="115.8" height="58.6" fill="#edecec" stroke="#b2b1ad"/><text class="f8"><tspan x="3032.9" y="1862.9">encoder</tspan><tspan x="3032.9" y="1874.6">(*Compiler)</tspan><tspan x="3032.9" y="1886.8">structCode</tspan><tspan x="3032.9" y="1898.5">0 of 2MB (0.52%)</tspan></text></g>
<g id="N_StructCode_ToOpcode" class="n"><rect x="2622" y="1976.2" width="115.8" height="58.5" fill="#edecec" stroke="#b2b0ab"/><text class="f8"><tspan x="2679.9" y="1990">encoder</tspan><tspan x="2679.9" y="2001.7">(*StructCode)</tspan><tspan x="2679.9" y="2013.8">ToOpcode</tspan><tspan x="2679.9" y="2026">0 of 3MB (0.79%)</tspan></text></g>
<g id="N_copyOpcode" class="n"><rect x="2766" y="1977.9" width="129.2" height="54.7" fill="#edecec" stroke="#b2b1ad"/><text class="f10"><tspan x="2830.6" y="1994.4">encoder</tspan><tspan x="2830.6" y="2009.2">copyOpcode</tspan><tspan x="2830.6" y="2023.1">2.06MB (0.54%)</tspan></text></g>
<g id="N_structFieldCode" class="n"><rect x="3020.5" y="1976.2" width="116.2" height="58.5" fill="#edecec" stroke="#b2b1ad"/><text class="f8"><tspan x="3078.6" y="1990">encoder</tspan><tspan x="3078.6" y="2001.7">(*Compiler)</tspan><tspan x="3078.6" y="2013.8">structFieldCode</tspan><tspan x="3078.6" y="2026">0 of 2MB (0.52%)</tspan></text></g>
<g id="N_typeToStructTags" class="n"><rect x="3160.6" y="1976.2" width="115.7" height="58.5" fill="#edecec" stroke="#b2b1ad"/><text class="f8"><tspan x="3218.5" y="1990">encoder</tspan><tspan x="3218.5" y="2001.7">(*Compiler)</tspan><tspan x="3218.5" y="2013.8">typeToStructTags</tspan><tspan x="3218.5" y="2026">0 of 2MB (0.52%)</tspan></text></g>
<g id="N_typeToCodeWithPtr" class="n"><rect x="2895.6" y="2131.9" width="125.3" height="58.9" fill="#edecec" stroke="#b2b1ad"/><text class="f8"><tspan x="2958.3" y="2145.6">encoder</tspan><tspan x="2958.3" y="2157.8">(*Compiler)</tspan><tspan x="2958.3" y="2169.9">typeToCodeWithPtr</tspan><tspan x="2958.3" y="2181.6">0 of 2MB (0.52%)</tspan></text></g>
<g id="N_runtime_Field" class="n"><rect x="3160.6" y="2131.9" width="115.7" height="58.9" fill="#edecec" stroke="#b2b1ad"/><text class="f8"><tspan x="3218.5" y="2145.6">runtime</tspan><tspan x="3218.5" y="2157.8">(*Type)</tspan><tspan x="3218.5" y="2169.9">Field</tspan><tspan x="3218.5" y="2181.6">0 of 2MB (0.52%)</tspan></text></g>
<g id="N_StructFieldCode_ToOpcode" class="n"><rect x="2430.3" y="2122.4" width="138.7" height="78" fill="#edecec" stroke="#b2b0ab"/><text class="f9"><tspan x="2499.7" y="2138.2">encoder</tspan><tspan x="2499.7" y="2150.7">(*StructFieldCode)</tspan><tspan x="2499.7" y="2163.6">ToOpcode</tspan><tspan x="2499.7" y="2177.6">1MB (0.26%)</tspan><tspan x="2499.7" y="2190.4">of 3MB (0.79%)</tspan></text></g>
<g id="N_ptrCode" class="n"><rect x="2772.3" y="2273.2" width="116.2" height="58.6" fill="#edecec" stroke="#b2b1ad"/><text class="f8"><tspan x="2830.4" y="2287">encoder</tspan><tspan x="2830.4" y="2298.7">(*Compiler)</tspan><tspan x="2830.4" y="2310.8">ptrCode</tspan><tspan x="2830.4" y="2322.6">0 of 2MB (0.52%)</tspan></text></g>
<g id="N_sliceCode" class="n"><rect x="2919.5" y="2273.2" width="115.3" height="58.6" fill="#edecec" stroke="#b2b1ad"/><text class="f8"><tspan x="2977.2" y="2287">encoder</tspan><tspan x="2977.2" y="2298.7">(*Compiler)</tspan><tspan x="2977.2" y="2310.8">sliceCode</tspan><tspan x="2977.2" y="2322.6">0 of 2MB (0.52%)</tspan></text></g>
<g id="N_reflect_Field" class="n"><rect x="3162.5" y="2268" width="111.9" height="69" fill="#edecec" stroke="#b2b1ad"/><text class="f10"><tspan x="3218.5" y="2284.5">reflect</tspan><tspan x="3218.5" y="2299.3">(*structType)</tspan><tspan x="3218.5" y="2313.2">Field</tspan><tspan x="3218.5" y="2327.9">2MB (0.52%)</tspan></text></g>
<g id="N_toValueOpcodes" class="n"><rect x="2524.4" y="2405.2" width="121.7" height="58.8" fill="#edecec" stroke="#b2b0ab"/><text class="f8"><tspan x="2585.3" y="2419">encoder</tspan><tspan x="2585.3" y="2430.9">(*StructFieldCode)</tspan><tspan x="2585.3" y="2442.7">toValueOpcodes</tspan><tspan x="2585.3" y="2454.9">0 of 3MB (0.79%)</tspan></text></g>
<g id="N_listElemCode" class="n"><rect x="2990" y="2405.2" width="115.7" height="58.8" fill="#edecec" stroke="#b2b1ad"/><text class="f8"><tspan x="3047.9" y="2419">encoder</tspan><tspan x="3047.9" y="2430.9">(*Compiler)</tspan><tspan x="3047.9" y="2442.7">listElemCode</tspan><tspan x="3047.9" y="2454.9">0 of 2MB (0.52%)</tspan></text></g>
<g id="N_PtrCode_ToOpcode" class="n"><rect x="2576.3" y="2531.5" width="116.2" height="59.2" fill="#edecec" stroke="#b2b0ab"/><text class="f8"><tspan x="2634.4" y="2545.8">encoder</tspan><tspan x="2634.4" y="2557.6">(*PtrCode)</tspan><tspan x="2634.4" y="2569.5">ToOpcode</tspan><tspan x="2634.4" y="2582">0 of 3MB (0.79%)</tspan></text></g>

<g id="T_payload_3_12kB" class="leaf"><use xlink:href="#box3d" x="909.2" y="837"/><text x="909.2" y="863.8">3.12kB</text></g>
<g id="T_vqueue_48B" class="leaf"><use xlink:href="#box3d" x="1172" y="837"/><text x="1172" y="863.8">48B</text></g>
<g id="T_decoder_1_82MB" class="leaf"><use xlink:href="#box3d" x="1358.7" y="837"/><text x="1358.7" y="863.8">1.82MB</text></g>
<g id="T_encoder_936kB" class="leaf"><use xlink:href="#box3d" x="1558.4" y="837"/><text x="1558.4" y="863.8">936kB</text></g>
<g id="T_proto_80kB" class="leaf"><use xlink:href="#box3d" x="1735.8" y="837"/><text x="1735.8" y="863.8">80kB</text></g>
<g id="T_protoregistry_40kB" class="leaf"><use xlink:href="#box3d" x="1896" y="837"/><text x="1896" y="863.8">40kB</text></g>
<g id="T_sync_14kB" class="leaf"><use xlink:href="#box3d" x="2049.3" y="837"/><text x="2049.3" y="863.8">14kB</text></g>
<g id="T_v1alpha1_288B" class="leaf"><use xlink:href="#box3d" x="2193.4" y="837"/><text x="2193.4" y="863.8">288B</text></g>
<g id="T_prometheus_96B" class="leaf"><use xlink:href="#box3d" x="2326.3" y="837"/><text x="2326.3" y="863.8">96B</text></g>
<g id="T_mux_112B" class="leaf"><use xlink:href="#box3d" x="2673.2" y="837"/><text x="2673.2" y="863.8">112B</text></g>
<g id="T_pprof_1MB" class="leaf"><use xlink:href="#box3d" x="3138.5" y="837"/><text x="3138.5" y="863.8">1MB</text></g>
<g id="T_transport_32kB" class="leaf"><use xlink:href="#box3d" x="3428.3" y="639"/><text x="3428.3" y="665.8">32kB</text></g>
<g id="T_gache_448kB" class="leaf"><use xlink:href="#box3d" x="1047.8" y="1219"/><text x="1047.8" y="1245.8">448kB</text></g>
<g id="T_newEntry_16B" class="leaf"><use xlink:href="#box3d" x="1031.9" y="1593"/><text x="1031.9" y="1619.8">16B</text></g>
<g id="T_dirtyLocked_448kB" class="leaf"><use xlink:href="#box3d" x="1367.6" y="1593"/><text x="1367.6" y="1619.8">448kB</text></g>
<g id="T_appendRange_5_25kB" class="leaf"><use xlink:href="#box3d" x="2254.5" y="1593.4"/><text x="2254.5" y="1620.2">5.25kB</text></g>
<g id="T_goyaml_112B" class="leaf"><use xlink:href="#box3d" x="2985.3" y="1033"/><text x="2985.3" y="1059.8">112B</text></g>
<g id="T_inst_704B" class="leaf"><use xlink:href="#box3d" x="2298.5" y="1728.6"/><text x="2298.5" y="1755.4">704B</text></g>
<g id="T_inst_3kB" class="leaf"><use xlink:href="#box3d" x="2410.5" y="1728.6"/><text x="2410.5" y="1755.4">3kB</text></g>
<g id="T_inst_1_38kB" class="leaf"><use xlink:href="#box3d" x="2522.7" y="1728.6"/><text x="2522.7" y="1755.4">1.38kB</text></g>
<g id="T_copyOpcode_32kB" class="leaf"><use xlink:href="#box3d" x="2830.6" y="2137"/><text x="2830.6" y="2163.8">32kB</text></g>
<g id="T_StructFieldCode_128B" class="leaf"><use xlink:href="#box3d" x="2499.7" y="2279"/><text x="2499.7" y="2305.8">128B</text></g>
<g id="T_reflect_16B" class="leaf"><use xlink:href="#box3d" x="3218.5" y="2411"/><text x="3218.5" y="2437.8">16B</text></g>
</svg>
